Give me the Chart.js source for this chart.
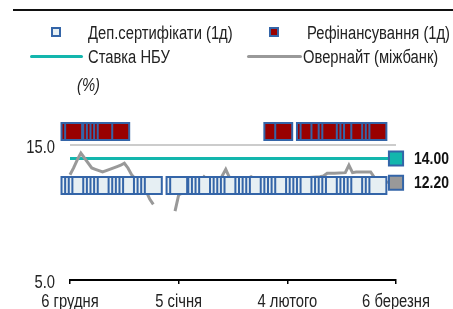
<!DOCTYPE html>
<html>
<head>
<meta charset="utf-8">
<script src="https://cdn.jsdelivr.net/npm/chart.js@4.4.1/dist/chart.umd.min.js"></script>
<style>
  body { margin: 0; background: #fff; }
  #wrap { position: relative; width: 453px; height: 309px; overflow: hidden;
          font-family: 'Liberation Sans', Arial, sans-serif; font-size: 18px; color: #222; }
  #wrap canvas { position: absolute; left: 0; top: 0; }
  .rule { position: absolute; left: 13px; top: 9px; width: 440px; height: 2px; background: #111; }
  /* Arial Narrow look: Arial squeezed horizontally */
  .lg { position: absolute; line-height: 20px; white-space: nowrap; transform: scaleX(0.82); transform-origin: 0 50%; }
  .sq { position: absolute; width: 6px; height: 6px; border: 2px solid #3465a8; }
  .ln { position: absolute; height: 3px; border-radius: 1.5px; }
</style>
</head>
<body>
<div id="wrap">
  <canvas id="chart" width="453" height="309"></canvas>
  <div class="rule"></div>
  <div class="sq" style="left:51px;top:27px;background:#e6eff3"></div>
  <div class="lg" style="left:88px;top:23px">Деп.сертифікати (1д)</div>
  <div class="sq" style="left:269px;top:27px;background:#990000"></div>
  <div class="lg" style="left:307px;top:23px">Рефінансування (1д)</div>
  <div class="ln" style="left:30px;top:55px;width:53px;background:#13b6ad"></div>
  <div class="lg" style="left:88px;top:47px">Ставка НБУ</div>
  <div class="ln" style="left:247px;top:55px;width:55px;background:#999"></div>
  <div class="lg" style="left:303px;top:47px">Овернайт (міжбанк)</div>
  <div class="lg" style="left:77px;top:75px;font-style:italic">(%)</div>
</div>
<script>
// business days shown on the chart
const dates = [
  '2016-12-06', '2016-12-07', '2016-12-08', '2016-12-09',
  '2016-12-12', '2016-12-13', '2016-12-14', '2016-12-15', '2016-12-16',
  '2016-12-19', '2016-12-20', '2016-12-21', '2016-12-22', '2016-12-23',
  '2016-12-26', '2016-12-27', '2016-12-28', '2016-12-29',
  '2017-01-04', '2017-01-05',
  '2017-01-10', '2017-01-11', '2017-01-12', '2017-01-13',
  '2017-01-16', '2017-01-17', '2017-01-18', '2017-01-19', '2017-01-20',
  '2017-01-23', '2017-01-24', '2017-01-25', '2017-01-26', '2017-01-27',
  '2017-01-30', '2017-01-31', '2017-02-01', '2017-02-02', '2017-02-03',
  '2017-02-06', '2017-02-07', '2017-02-08', '2017-02-09', '2017-02-10',
  '2017-02-13', '2017-02-14', '2017-02-15', '2017-02-16', '2017-02-17',
  '2017-02-20', '2017-02-21', '2017-02-22', '2017-02-23', '2017-02-24',
  '2017-02-27', '2017-02-28', '2017-03-01',
  '2017-03-06'
];
const depRate = [
  12, 12, 12, 12,
  12, 12, 12, 12, 12,
  12, 12, 12, 12, 12,
  12, 12, 12, 12,
  12, 12,
  12, 12, 12, 12,
  12, 12, 12, 12, 12,
  12, 12, 12, 12, 12,
  12, 12, 12, 12, 12,
  12, 12, 12, 12, 12,
  12, 12, 12, 12, 12,
  12, 12, 12, 12, 12,
  12, 12, 12,
  null
];
const refiRate = [
  16, 16, null, null,
  16, 16, 16, 16, 16,
  null, 16, null, null, null,
  null, null, null, null,
  null, null,
  null, null, null, null,
  null, null, null, null, null,
  null, null, null, null, null,
  null, 16, null, null, 16,
  null, null, null, 16, 16,
  16, null, 16, 16, null,
  16, 16, 16, null, 16,
  16, 16, 16,
  null
];
const overnight = [
  12.8, 13.3, 13.9, 14.4,
  13.3, 13.2, 13.1, 13.0, 13.1,
  13.4, 13.5, 13.65, 13.3, 12.8,
  11.9, 11.6, 11.0, 10.6,
  10.1, 11.3,
  12.0, 12.3, 12.65, 12.4,
  12.3, 12.7, 13.2, 12.6, 12.4,
  12.4, 12.5, 12.65, 12.5, 12.4,
  12.5, 12.55, 12.5, 12.45, 12.4,
  12.4, 12.5, 12.5, 12.6, 12.6,
  12.65, 12.7, 12.9, 12.9, 12.9,
  12.95, 13.5, 12.95, 13.0, 13.0,
  13.0, 12.6, 12.3,
  12.2
];
const nbuDates = ['2016-12-06', '2017-03-06'];
const nbuRate = [14, 14];

const tickDates = ['2016-12-06', '2017-01-05', '2017-02-04', '2017-03-06'];
const tickLabels = ['6 грудня', '5 січня', '4 лютого', '6 березня'];
const yTicks = [5, 15];

const FONT = "'Liberation Sans', Arial, sans-serif";
const BLUE = '#3465a8';
const NARROW = 0.82;

const DAY0 = Date.UTC(2016, 11, 6);
function dayOf(s) {
  const [y, m, d] = s.split('-').map(Number);
  return (Date.UTC(y, m - 1, d) - DAY0) / 864e5;
}
function pts(ds, vs) {
  return ds.map((d, i) => ({ x: dayOf(d), y: vs[i] })).filter(p => p.y != null);
}
const lastOnly = r => ctx => ctx.dataIndex === ctx.dataset.data.length - 1 ? r : 0;

// no Arial Narrow here, so squeeze canvas text the same way as the legend
const canvas = document.getElementById('chart');
const c2d = canvas.getContext('2d');
const rawFillText = c2d.fillText;
c2d.fillText = function (text, x, y) {
  this.save();
  this.translate(x, y);
  this.scale(NARROW, 1);
  rawFillText.call(this, text, 0, 0);
  this.restore();
};

const endLabels = {
  id: 'endLabels',
  afterDatasetsDraw(chart) {
    const ctx = chart.ctx;
    chart.data.datasets.forEach((ds, i) => {
      if (!ds.endLabel) return;
      const meta = chart.getDatasetMeta(i);
      const el = meta.data[meta.data.length - 1];
      const v = ds.data[ds.data.length - 1].y;
      ctx.save();
      ctx.font = 'bold 17px ' + FONT;
      ctx.fillStyle = '#111';
      ctx.textBaseline = 'middle';
      ctx.fillText(v.toFixed(2), el.x + 18, el.y + 1);
      ctx.restore();
    });
  }
};

Chart.defaults.font.family = FONT;
Chart.defaults.font.size = 18;
Chart.defaults.color = '#222';

new Chart(canvas, {
  type: 'line',
  data: {
    datasets: [
      {
        label: 'Рефінансування (1д)', data: pts(dates, refiRate), order: 1,
        showLine: false, pointStyle: 'rect', pointRadius: 12, pointBorderWidth: 2,
        pointBackgroundColor: '#990000', pointBorderColor: BLUE, clip: false
      },
      {
        label: 'Деп.сертифікати (1д)', data: pts(dates, depRate), order: 2,
        showLine: false, pointStyle: 'rect', pointRadius: 12, pointBorderWidth: 2,
        pointBackgroundColor: '#e6eff3', pointBorderColor: BLUE, clip: false
      },
      {
        label: 'Овернайт (міжбанк)', data: pts(dates, overnight), order: 3, endLabel: true,
        borderColor: '#999', borderWidth: 3, spanGaps: 5.5, tension: 0,
        pointStyle: 'rect', pointRadius: lastOnly(10), pointBorderWidth: 2,
        pointBackgroundColor: '#999', pointBorderColor: BLUE, clip: false
      },
      {
        label: 'Ставка НБУ', data: pts(nbuDates, nbuRate), order: 4, endLabel: true,
        borderColor: '#13b6ad', borderWidth: 3,
        pointStyle: 'rect', pointRadius: lastOnly(10), pointBorderWidth: 2,
        pointBackgroundColor: '#13b6ad', pointBorderColor: BLUE, clip: false
      }
    ]
  },
  options: {
    responsive: false,
    animation: false,
    devicePixelRatio: 1,
    layout: { padding: { left: 0, right: 57, top: 118, bottom: 0 } },
    plugins: { legend: { display: false }, tooltip: { enabled: false } },
    scales: {
      x: {
        type: 'linear', min: 0, max: 90,
        afterBuildTicks: s => { s.ticks = tickDates.map(d => ({ value: dayOf(d) })); },
        afterFit: s => { s.height = 29; },
        ticks: { autoSkip: false, maxRotation: 0, padding: 7, callback: (v, i) => tickLabels[i] },
        grid: { drawOnChartArea: false, drawTicks: true, tickLength: 4, color: '#000', lineWidth: 1.5 },
        border: { display: true, color: '#000', width: 2 }
      },
      y: {
        min: 5, max: 17,
        afterBuildTicks: s => { s.ticks = yTicks.map(v => ({ value: v })); },
        afterFit: s => { s.width = 70; },
        ticks: { padding: 15, labelOffset: 3, callback: v => v.toFixed(1) },
        grid: {
          drawTicks: false, lineWidth: 2,
          color: c => (c.tick && c.tick.value === 15) ? '#cccccc' : 'rgba(0,0,0,0)'
        },
        border: { display: false }
      }
    }
  },
  plugins: [endLabels]
});
</script>
</body>
</html>
